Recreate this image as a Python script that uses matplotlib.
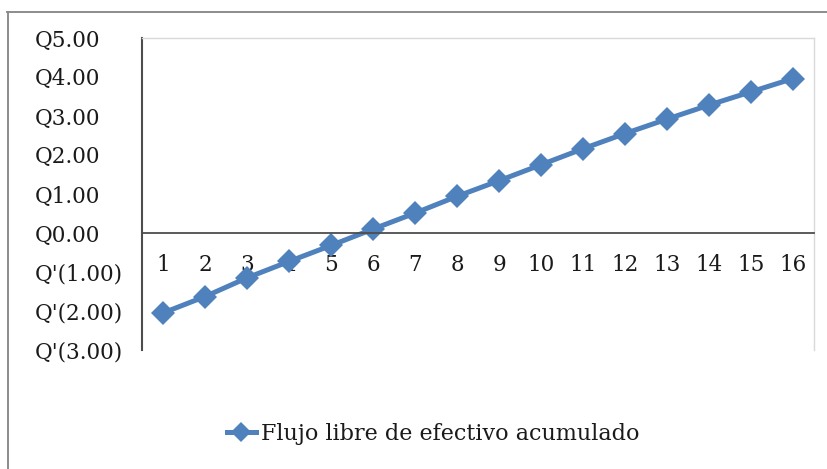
import matplotlib
matplotlib.use("Agg")
import matplotlib.pyplot as plt
from matplotlib.lines import Line2D
from matplotlib.ticker import FuncFormatter, MultipleLocator

# Accumulated free cash flow per period (in millions of quetzales)
periods = list(range(1, 17))
flujo_acumulado = [-2.05, -1.63, -1.15, -0.73, -0.32, 0.10, 0.51, 0.94,
                   1.34, 1.75, 2.16, 2.55, 2.92, 3.28, 3.62, 3.96]
series_label = "Flujo libre de efectivo acumulado"
y_min, y_max, y_step = -3, 5, 1

plt.rcParams["font.family"] = ["DejaVu Serif"]
W, H, DPI = 827, 469, 100
fig = plt.figure(figsize=(W / DPI, H / DPI), dpi=DPI)

# chart frame (top and left edges)
frame_col = "#8c8c8c"
fig.add_artist(Line2D([7 / W, 1.0], [1 - 12.5 / H, 1 - 12.5 / H], color=frame_col, lw=1.4,
                      transform=fig.transFigure))
fig.add_artist(Line2D([7.5 / W, 7.5 / W], [0.0, 1 - 12.5 / H], color=frame_col, lw=1.4,
                      transform=fig.transFigure))

left, right, top, bottom = 142 / W, 814 / W, 38 / H, 350 / H
ax = fig.add_axes([left, 1 - bottom, right - left, bottom - top])

line_col = "#4f81bd"
ax.plot(periods, flujo_acumulado, color=line_col, lw=3.6, marker="D", ms=12,
        markeredgewidth=0, label=series_label, solid_joinstyle="round")

ax.set_xlim(0.5, 16.5)
ax.set_ylim(y_min, y_max)
ax.yaxis.set_major_locator(MultipleLocator(y_step))


def quetzal(v, pos):
    if v < 0:
        return "Q'({:.2f})".format(abs(v))
    return "Q{:.2f}".format(v)


ax.yaxis.set_major_formatter(FuncFormatter(quetzal))
ax.set_xticks(periods)
ax.set_xticklabels([str(p) for p in periods])

axis_col = "#4d4d4d"
light = "#d9d9d9"
ax.spines["bottom"].set_position(("data", 0))
ax.spines["bottom"].set_color(axis_col)
ax.spines["bottom"].set_linewidth(1.3)
ax.spines["left"].set_color(axis_col)
ax.spines["left"].set_linewidth(1.5)
ax.spines["top"].set_color(light)
ax.spines["right"].set_color(light)
ax.spines["top"].set_linewidth(1.0)
ax.spines["right"].set_linewidth(1.0)

text_col = "#1a1a1a"
ax.tick_params(axis="x", length=0, pad=15, labelsize=15.5, colors=text_col)
ax.tick_params(axis="y", length=0, pad=77, labelsize=15.5, colors=text_col)
for lab in ax.get_yticklabels():
    lab.set_horizontalalignment("left")

handle = Line2D([], [], color=line_col, lw=3.6, marker="D", ms=10, markeredgewidth=0)
fig.legend([handle], [series_label], loc="center", bbox_to_anchor=(0.524, 1 - 434 / H),
           frameon=False, fontsize=16, handlelength=1.3, handletextpad=0.25,
           labelcolor=text_col)

fig.savefig("out.png", dpi=DPI, facecolor="white")
